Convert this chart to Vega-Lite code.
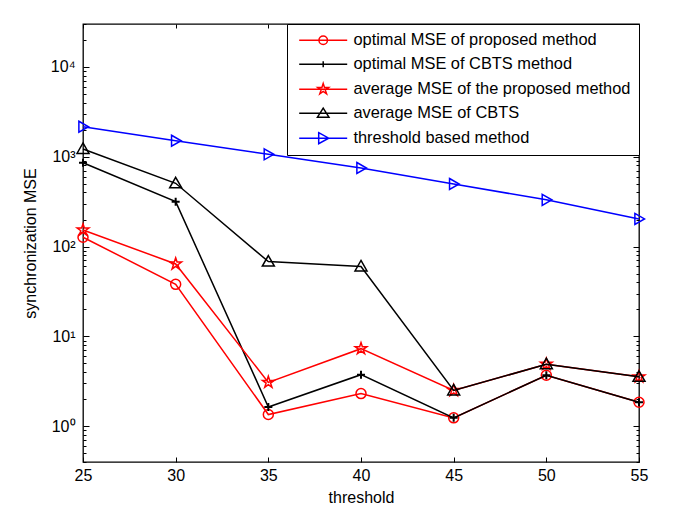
{
  "$schema": "https://vega.github.io/schema/vega-lite/v6.json",
  "width": 556,
  "height": 438,
  "autosize": "none",
  "padding": {"left": 83, "top": 24, "right": 46, "bottom": 63},
  "background": "white",
  "config": {
    "view": {"stroke": "black", "strokeWidth": 1.3},
    "axis": {
      "domain": false, "grid": false, "tickColor": "black", "tickWidth": 1,
      "labelFont": "Liberation Sans", "labelFontSize": 16, "labelColor": "black",
      "titleFont": "Liberation Sans", "titleFontSize": 16, "titleFontWeight": "normal", "titleColor": "black"
    }
  },
  "data": {
    "values": [
      {"threshold": 25, "series": "optimal MSE of proposed method", "mse": 127},
      {"threshold": 30, "series": "optimal MSE of proposed method", "mse": 38},
      {"threshold": 35, "series": "optimal MSE of proposed method", "mse": 1.35},
      {"threshold": 40, "series": "optimal MSE of proposed method", "mse": 2.31},
      {"threshold": 45, "series": "optimal MSE of proposed method", "mse": 1.24},
      {"threshold": 50, "series": "optimal MSE of proposed method", "mse": 3.69},
      {"threshold": 55, "series": "optimal MSE of proposed method", "mse": 1.85},
      {"threshold": 25, "series": "optimal MSE of CBTS method", "mse": 857},
      {"threshold": 30, "series": "optimal MSE of CBTS method", "mse": 316},
      {"threshold": 35, "series": "optimal MSE of CBTS method", "mse": 1.64},
      {"threshold": 40, "series": "optimal MSE of CBTS method", "mse": 3.75},
      {"threshold": 45, "series": "optimal MSE of CBTS method", "mse": 1.24},
      {"threshold": 50, "series": "optimal MSE of CBTS method", "mse": 3.69},
      {"threshold": 55, "series": "optimal MSE of CBTS method", "mse": 1.85},
      {"threshold": 25, "series": "average MSE of the proposed method", "mse": 153},
      {"threshold": 30, "series": "average MSE of the proposed method", "mse": 64},
      {"threshold": 35, "series": "average MSE of the proposed method", "mse": 3.08},
      {"threshold": 40, "series": "average MSE of the proposed method", "mse": 7.3},
      {"threshold": 45, "series": "average MSE of the proposed method", "mse": 2.5},
      {"threshold": 50, "series": "average MSE of the proposed method", "mse": 4.9},
      {"threshold": 55, "series": "average MSE of the proposed method", "mse": 3.55},
      {"threshold": 25, "series": "average MSE of CBTS", "mse": 1220},
      {"threshold": 30, "series": "average MSE of CBTS", "mse": 506},
      {"threshold": 35, "series": "average MSE of CBTS", "mse": 68},
      {"threshold": 40, "series": "average MSE of CBTS", "mse": 60},
      {"threshold": 45, "series": "average MSE of CBTS", "mse": 2.5},
      {"threshold": 50, "series": "average MSE of CBTS", "mse": 4.9},
      {"threshold": 55, "series": "average MSE of CBTS", "mse": 3.55},
      {"threshold": 25, "series": "threshold based method", "mse": 2154},
      {"threshold": 30, "series": "threshold based method", "mse": 1506},
      {"threshold": 35, "series": "threshold based method", "mse": 1063},
      {"threshold": 40, "series": "threshold based method", "mse": 749},
      {"threshold": 45, "series": "threshold based method", "mse": 497},
      {"threshold": 50, "series": "threshold based method", "mse": 331},
      {"threshold": 55, "series": "threshold based method", "mse": 203}
    ]
  },
  "resolve": {"axis": {"x": "independent", "y": "independent"}, "scale": {"x": "independent"}},
  "layer": [
    {
      "transform": [{"filter": "datum.series === 'optimal MSE of proposed method'"}],
      "mark": {"type": "line", "color": "#ff0000", "strokeWidth": 1.5,
        "point": {"shape": "circle", "size": 100, "filled": false, "color": "#ff0000", "strokeWidth": 1.5, "opacity": 1}},
      "encoding": {
        "x": {"field": "threshold", "type": "quantitative", "scale": {"domain": [25, 55], "nice": false, "zero": false}, "axis": {
          "orient": "bottom", "values": [25, 30, 35, 40, 45, 50, 55], "tickSize": -5, "labelPadding": 10,
          "labelFlush": false, "title": "threshold", "titlePadding": 6
        }},
        "y": {"field": "mse", "type": "quantitative", "scale": {"type": "log", "domain": [0.4, 30000], "nice": false}, "axis": {
          "orient": "left",
          "values": [0.4, 0.5, 0.6, 0.7, 0.8, 0.9, 1, 2, 3, 4, 5, 6, 7, 8, 9, 10, 20, 30, 40, 50, 60, 70, 80, 90, 100, 200, 300, 400, 500, 600, 700, 800, 900, 1000, 2000, 3000, 4000, 5000, 6000, 7000, 8000, 9000, 10000, 20000, 30000],
          "tickSize": {"condition": {"test": "datum.value == 1 || datum.value == 10 || datum.value == 100 || datum.value == 1000 || datum.value == 10000", "value": -6}, "value": -3},
          "labelPadding": 14,
          "labelExpr": "datum.value == 1 ? '10⁰' : datum.value == 10 ? '10¹' : datum.value == 100 ? '10²' : datum.value == 1000 ? '10³' : datum.value == 10000 ? '10⁴' : ''",
          "title": "synchronization MSE", "titlePadding": 12
        }}
      }
    },
    {
      "transform": [{"filter": "datum.series === 'optimal MSE of CBTS method'"}],
      "mark": {"type": "line", "color": "#000000", "strokeWidth": 1.5,
        "point": {"shape": "M-1,0L1,0M0,-1L0,1", "size": 64, "filled": false, "color": "#000000", "strokeWidth": 2, "opacity": 1}},
      "encoding": {
        "x": {"field": "threshold", "type": "quantitative", "scale": {"domain": [25, 55], "nice": false, "zero": false}, "axis": {"orient": "top", "values": [25, 30, 35, 40, 45, 50, 55], "tickSize": -4, "labels": false, "title": null}},
        "y": {"field": "mse", "type": "quantitative", "axis": {"orient": "right",
          "values": [0.4, 0.5, 0.6, 0.7, 0.8, 0.9, 1, 2, 3, 4, 5, 6, 7, 8, 9, 10, 20, 30, 40, 50, 60, 70, 80, 90, 100, 200, 300, 400, 500, 600, 700, 800, 900, 1000, 2000, 3000, 4000, 5000, 6000, 7000, 8000, 9000, 10000, 20000, 30000],
          "tickSize": {"condition": {"test": "datum.value == 1 || datum.value == 10 || datum.value == 100 || datum.value == 1000 || datum.value == 10000", "value": -6}, "value": -3},
          "labels": false, "title": null}}
      }
    },
    {
      "transform": [{"filter": "datum.series === 'average MSE of the proposed method'"}],
      "mark": {"type": "line", "color": "#ff0000", "strokeWidth": 1.5,
        "point": {"shape": "M0,-1L0.225,-0.309L0.951,-0.309L0.363,0.118L0.588,0.809L0,0.382L-0.588,0.809L-0.363,0.118L-0.951,-0.309L-0.225,-0.309Z", "size": 150, "filled": false, "color": "#ff0000", "strokeWidth": 1.5, "opacity": 1}},
      "encoding": {
        "x": {"field": "threshold", "type": "quantitative", "scale": {"domain": [25, 55], "nice": false, "zero": false}, "axis": null},
        "y": {"field": "mse", "type": "quantitative", "axis": null}
      }
    },
    {
      "transform": [{"filter": "datum.series === 'average MSE of CBTS'"}],
      "mark": {"type": "line", "color": "#000000", "strokeWidth": 1.5,
        "point": {"shape": "M0,-1L1,0.75L-1,0.75Z", "size": 144, "filled": false, "color": "#000000", "strokeWidth": 1.5, "opacity": 1}},
      "encoding": {
        "x": {"field": "threshold", "type": "quantitative", "scale": {"domain": [25, 55], "nice": false, "zero": false}, "axis": null},
        "y": {"field": "mse", "type": "quantitative", "axis": null}
      }
    },
    {
      "transform": [{"filter": "datum.series === 'threshold based method'"}],
      "mark": {"type": "line", "color": "#0000ff", "strokeWidth": 1.5,
        "point": {"shape": "M-0.75,-1L1,0L-0.75,1Z", "size": 121, "filled": false, "color": "#0000ff", "strokeWidth": 1.5, "opacity": 1}},
      "encoding": {
        "x": {"field": "threshold", "type": "quantitative", "scale": {"domain": [25, 55], "nice": false, "zero": false}, "axis": null},
        "y": {"field": "mse", "type": "quantitative", "axis": null}
      }
    },
    {
      "mark": {"type": "point", "size": 100, "filled": false, "strokeWidth": 1.5, "clip": true, "opacity": 1},
      "encoding": {
        "x": {"field": "threshold", "type": "quantitative", "scale": {"domain": [1000, 2000], "nice": false, "zero": false}, "axis": null},
        "y": {"field": "mse", "type": "quantitative", "axis": null},
        "color": {"field": "series", "type": "nominal", "legend": {
          "orient": "top-right", "offset": 0, "title": null, "strokeColor": "black", "fillColor": "white",
          "padding": 8, "labelFont": "Liberation Sans", "labelFontSize": 16.4, "labelColor": "black", "labelLimit": 1000,
          "symbolOffset": 20, "labelOffset": 22, "rowPadding": 7, "symbolStrokeWidth": 1.5, "symbolOpacity": 1
        }, "scale": {
          "domain": ["optimal MSE of proposed method", "optimal MSE of CBTS method", "average MSE of the proposed method", "average MSE of CBTS", "threshold based method"],
          "range": ["#ff0000", "#000000", "#ff0000", "#000000", "#0000ff"]
        }},
        "shape": {"field": "series", "type": "nominal", "legend": {
          "orient": "top-right", "offset": 0, "title": null, "strokeColor": "black", "fillColor": "white",
          "padding": 8, "labelFont": "Liberation Sans", "labelFontSize": 16.4, "labelColor": "black", "labelLimit": 1000,
          "symbolOffset": 20, "labelOffset": 22, "rowPadding": 7, "symbolStrokeWidth": 1.5, "symbolOpacity": 1
        }, "scale": {
          "domain": ["optimal MSE of proposed method", "optimal MSE of CBTS method", "average MSE of the proposed method", "average MSE of CBTS", "threshold based method"],
          "range": [
            "M-4.8,0L4.8,0M-0.85,0A0.85,0.85,0,1,0,0.85,0A0.85,0.85,0,1,0,-0.85,0",
            "M-4.8,0L4.8,0M0,-0.6L0,0.6M-0.6,0L0.6,0",
            "M-4.8,0L4.8,0M0,-1.15L0.26,-0.355L1.094,-0.355L0.418,0.136L0.676,0.93L0,0.439L-0.676,0.93L-0.418,0.136L-1.094,-0.355L-0.26,-0.355Z",
            "M-4.8,0L4.8,0M0,-1L1.15,0.8L-1.15,0.8Z",
            "M-4.8,0L4.8,0M-0.9,-1.1L1.1,0L-0.9,1.1Z"
          ]
        }}
      }
    }
  ]
}
